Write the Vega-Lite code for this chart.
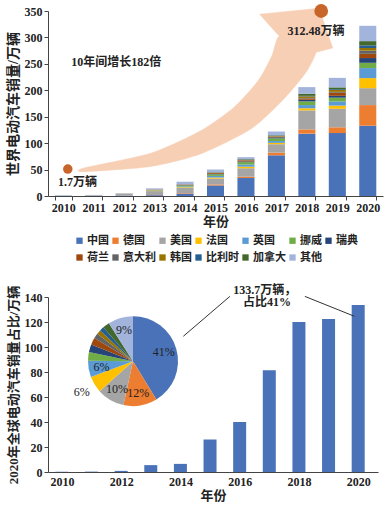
{
  "$schema": "https://vega.github.io/schema/vega-lite/v6.json",
  "padding": {"left": 6, "top": 4, "right": 4, "bottom": 4},
  "background": "white",
  "datasets": {
    "sales": [
      {"year": 2010, "中国": 0.2, "德国": 0, "美国": 0.4, "法国": 0.1, "英国": 0, "挪威": 0, "瑞典": 0, "荷兰": 0, "意大利": 0, "韩国": 0, "比利时": 0, "加拿大": 0, "其他": 1.0},
      {"year": 2011, "中国": 0.5, "德国": 0, "美国": 1.0, "法国": 0, "英国": 0, "挪威": 0, "瑞典": 0, "荷兰": 0, "意大利": 0, "韩国": 0, "比利时": 0, "加拿大": 0, "其他": 0.5},
      {"year": 2012, "中国": 0.8, "德国": 0, "美国": 3.5, "法国": 0.5, "英国": 0, "挪威": 0, "瑞典": 0, "荷兰": 0, "意大利": 0, "韩国": 0, "比利时": 0, "加拿大": 0, "其他": 1.0},
      {"year": 2013, "中国": 1.5, "德国": 0.3, "美国": 7.5, "法国": 0.8, "英国": 0.3, "挪威": 0.8, "瑞典": 0, "荷兰": 1.0, "意大利": 0, "韩国": 0, "比利时": 0, "加拿大": 0, "其他": 2.3},
      {"year": 2014, "中国": 4.5, "德国": 1, "美国": 10, "法国": 1.2, "英国": 1.5, "挪威": 2, "瑞典": 0.5, "荷兰": 1.2, "意大利": 0, "韩国": 0, "比利时": 0, "加拿大": 0, "其他": 5.1},
      {"year": 2015, "中国": 20, "德国": 2, "美国": 11, "法国": 2, "英国": 3, "挪威": 3, "瑞典": 1, "荷兰": 1.5, "意大利": 0.3, "韩国": 0.5, "比利时": 0.3, "加拿大": 0.5, "其他": 5},
      {"year": 2016, "中国": 34, "德国": 2.5, "美国": 16, "法国": 3, "英国": 4, "挪威": 4.5, "瑞典": 1.3, "荷兰": 2, "意大利": 0.5, "韩国": 0.5, "比利时": 0.5, "加拿大": 1, "其他": 3.7},
      {"year": 2017, "中国": 77, "德国": 5, "美国": 16, "法国": 2.5, "英国": 3.5, "挪威": 5, "瑞典": 2, "荷兰": 1, "意大利": 0.5, "韩国": 1, "比利时": 0.5, "加拿大": 1, "其他": 7},
      {"year": 2018, "中国": 118, "德国": 8, "美国": 36, "法国": 4, "英国": 6, "挪威": 7, "瑞典": 3, "荷兰": 2.5, "意大利": 1, "韩国": 3, "比利时": 1, "加拿大": 4, "其他": 12.5},
      {"year": 2019, "中国": 119, "德国": 11, "美国": 35, "法国": 6, "英国": 8, "挪威": 7, "瑞典": 3.5, "荷兰": 6, "意大利": 1.5, "韩国": 3.5, "比利时": 1.5, "加拿大": 3.5, "其他": 18},
      {"year": 2020, "中国": 133, "德国": 39, "美国": 32, "法国": 19, "英国": 19, "挪威": 10, "瑞典": 9, "荷兰": 8, "意大利": 6, "韩国": 5, "比利时": 5, "加拿大": 8, "其他": 29}
    ],
    "ord": [
      {"country": "中国", "k": 1}, {"country": "德国", "k": 2}, {"country": "美国", "k": 3},
      {"country": "法国", "k": 4}, {"country": "英国", "k": 5}, {"country": "挪威", "k": 6},
      {"country": "瑞典", "k": 7}, {"country": "荷兰", "k": 8}, {"country": "意大利", "k": 9},
      {"country": "韩国", "k": 10}, {"country": "比利时", "k": 11}, {"country": "加拿大", "k": 12},
      {"country": "其他", "k": 13}
    ],
    "shaft": [
      {"i": 0, "yr": 2010.68, "value": 53},
      {"i": 1, "yr": 2012.88, "value": 81},
      {"i": 2, "yr": 2014.53, "value": 124},
      {"i": 3, "yr": 2015.61, "value": 168},
      {"i": 4, "yr": 2016.4, "value": 218},
      {"i": 5, "yr": 2016.85, "value": 265},
      {"i": 6, "yr": 2017.15, "value": 305},
      {"i": 7, "yr": 2018.3, "value": 285},
      {"i": 8, "yr": 2018.04, "value": 240},
      {"i": 9, "yr": 2017.25, "value": 184},
      {"i": 10, "yr": 2016.17, "value": 127},
      {"i": 11, "yr": 2014.53, "value": 80},
      {"i": 12, "yr": 2012.88, "value": 56},
      {"i": 13, "yr": 2010.68, "value": 46}
    ],
    "head": [
      {"i": 0, "yr": 2016.45, "value": 344},
      {"i": 1, "yr": 2018.4, "value": 355},
      {"i": 2, "yr": 2018.85, "value": 280},
      {"i": 3, "yr": 2018.31, "value": 272},
      {"i": 4, "yr": 2017.05, "value": 305},
      {"i": 5, "yr": 2016.45, "value": 344}
    ],
    "china": [
      {"year": 2010, "v": 0.2}, {"year": 2011, "v": 0.3}, {"year": 2012, "v": 0.9},
      {"year": 2013, "v": 5.5}, {"year": 2014, "v": 6.5}, {"year": 2015, "v": 26},
      {"year": 2016, "v": 40}, {"year": 2017, "v": 81.5}, {"year": 2018, "v": 120},
      {"year": 2019, "v": 122.5}, {"year": 2020, "v": 133.7}
    ],
    "pie": [
      {"country": "中国", "k": 1, "v": 133, "lab": "41%", "out": ""},
      {"country": "德国", "k": 2, "v": 39, "lab": "12%", "out": ""},
      {"country": "美国", "k": 3, "v": 32, "lab": "10%", "out": ""},
      {"country": "法国", "k": 4, "v": 19, "lab": "", "out": "6%"},
      {"country": "英国", "k": 5, "v": 19, "lab": "6%", "out": ""},
      {"country": "挪威", "k": 6, "v": 10, "lab": "", "out": ""},
      {"country": "瑞典", "k": 7, "v": 9, "lab": "", "out": ""},
      {"country": "荷兰", "k": 8, "v": 8, "lab": "", "out": ""},
      {"country": "意大利", "k": 9, "v": 6, "lab": "", "out": ""},
      {"country": "韩国", "k": 10, "v": 5, "lab": "", "out": ""},
      {"country": "比利时", "k": 11, "v": 5, "lab": "", "out": ""},
      {"country": "加拿大", "k": 12, "v": 8, "lab": "", "out": ""},
      {"country": "其他", "k": 13, "v": 29, "lab": "9%", "out": ""}
    ],
    "leaders": [
      {"x": 2014.1, "y": 108.6, "x2": 2015.67, "y2": 140.5},
      {"x": 2018.2, "y": 140.5, "x2": 2019.87, "y2": 124.6}
    ]
  },
  "vconcat": [
    {
      "width": 335,
      "height": 185,
      "encoding": {
        "y": {"field": "value", "type": "quantitative", "scale": {"domain": [0, 350], "nice": false},
              "axis": {"title": "世界电动汽车销量/万辆", "values": [0, 50, 100, 150, 200, 250, 300, 350], "titlePadding": 4, "titleFontSize": 14}}
      },
      "layer": [
        {
          "data": {"name": "shaft"},
          "mark": {"type": "line", "fill": "#f7cfb4", "stroke": "#f7cfb4", "strokeWidth": 0.5, "interpolate": "cardinal-closed", "tension": 0.3},
          "encoding": {
            "x": {"field": "yr", "type": "quantitative", "scale": {"domain": [2009.5, 2020.5], "nice": false, "zero": false}, "axis": null},
            "order": {"field": "i", "type": "quantitative"}
          }
        },
        {
          "data": {"name": "head"},
          "mark": {"type": "line", "fill": "#f7cfb4", "stroke": "#f7cfb4", "strokeWidth": 0.5},
          "encoding": {
            "x": {"field": "yr", "type": "quantitative", "scale": {"domain": [2009.5, 2020.5], "nice": false, "zero": false}, "axis": null},
            "order": {"field": "i", "type": "quantitative"}
          }
        },
        {
          "data": {"name": "sales"},
          "transform": [
            {"fold": ["中国", "德国", "美国", "法国", "英国", "挪威", "瑞典", "荷兰", "意大利", "韩国", "比利时", "加拿大", "其他"], "as": ["country", "value"]},
            {"lookup": "country", "from": {"data": {"name": "ord"}, "key": "country", "fields": ["k"]}}
          ],
          "mark": {"type": "bar"},
          "encoding": {
            "x": {"field": "year", "type": "ordinal", "scale": {"paddingInner": 0.44, "paddingOuter": 0.22},
                  "axis": {"title": "年份", "labelAngle": 0, "tickBand": "extent", "titlePadding": 2}},
            "color": {"field": "country", "type": "nominal",
                      "sort": ["中国", "德国", "美国", "法国", "英国", "挪威", "瑞典", "荷兰", "意大利", "韩国", "比利时", "加拿大", "其他"],
                      "scale": {"domain": ["中国", "德国", "美国", "法国", "英国", "挪威", "瑞典", "荷兰", "意大利", "韩国", "比利时", "加拿大", "其他"],
                                "range": ["#4a72b8", "#ed7d31", "#a5a5a5", "#ffc000", "#5b9bd5", "#70ad47", "#264478", "#9e480e", "#636363", "#997300", "#255e91", "#43682b", "#a3b4dc"]},
                      "legend": {"orient": "bottom", "direction": "horizontal", "columns": 7, "gridAlign": "each", "title": null, "symbolType": "square", "symbolSize": 40, "labelFontSize": 11, "labelFontWeight": "bold", "columnPadding": 1, "rowPadding": 5, "labelOffset": 2, "offset": 7, "symbolStrokeWidth": 0}},
            "order": {"field": "k", "type": "quantitative"}
          }
        },
        {
          "data": {"values": [{"yr": 2010.15, "value": 51}]},
          "mark": {"type": "point", "filled": true, "size": 90, "color": "#c8652a", "opacity": 1},
          "encoding": {"x": {"field": "yr", "type": "quantitative", "scale": {"domain": [2009.5, 2020.5], "nice": false, "zero": false}, "axis": null}}
        },
        {
          "data": {"values": [{"yr": 2018.47, "value": 350}]},
          "mark": {"type": "point", "filled": true, "size": 190, "color": "#c8652a", "opacity": 1},
          "encoding": {"x": {"field": "yr", "type": "quantitative", "scale": {"domain": [2009.5, 2020.5], "nice": false, "zero": false}, "axis": null}}
        },
        {
          "data": {"values": [
            {"yr": 2010.47, "value": 26, "t": "1.7万辆"},
            {"yr": 2018.3, "value": 312, "t": "312.48万辆"},
            {"yr": 2011.74, "value": 253, "t": "10年间增长182倍"}
          ]},
          "mark": {"type": "text", "fontSize": 12, "fontWeight": "bold", "color": "#222"},
          "encoding": {
            "x": {"field": "yr", "type": "quantitative", "scale": {"domain": [2009.5, 2020.5], "nice": false, "zero": false}, "axis": null},
            "text": {"field": "t"}
          }
        }
      ],
      "resolve": {"scale": {"x": "independent"}}
    },
    {
      "width": 330,
      "height": 175,
      "layer": [
        {
          "data": {"name": "china"},
          "mark": {"type": "bar", "size": 13, "color": "#4a72b8"},
          "encoding": {
            "x": {"field": "year", "type": "quantitative", "scale": {"domain": [2009.7, 2020.5], "nice": false, "zero": false},
                  "axis": {"title": "年份", "values": [2010, 2012, 2014, 2016, 2018, 2020], "format": "d", "titlePadding": 2, "ticks": false, "labelPadding": 4}},
            "y": {"field": "v", "type": "quantitative", "scale": {"domain": [0, 140], "nice": false},
                  "axis": {"title": "2020年全球电动汽车销量占比/万辆", "values": [0, 20, 40, 60, 80, 100, 120, 140], "titlePadding": 4}}
          }
        },
        {
          "data": {"name": "leaders"},
          "mark": {"type": "rule", "color": "#333", "strokeWidth": 1},
          "encoding": {
            "x": {"field": "x", "type": "quantitative", "scale": {"domain": [2009.7, 2020.5], "nice": false, "zero": false},
                  "axis": {"title": "年份", "values": [2010, 2012, 2014, 2016, 2018, 2020], "format": "d", "titlePadding": 2, "ticks": false, "labelPadding": 4}},
            "x2": {"field": "x2"},
            "y": {"field": "y", "type": "quantitative", "scale": {"domain": [0, 140], "nice": false},
                  "axis": {"title": "2020年全球电动汽车销量占比/万辆", "values": [0, 20, 40, 60, 80, 100, 120, 140], "titlePadding": 4}},
            "y2": {"field": "y2"}
          }
        },
        {
          "data": {"name": "pie"},
          "mark": {"type": "arc", "radius": 45},
          "encoding": {
            "theta": {"field": "v", "type": "quantitative", "stack": true},
            "order": {"field": "k", "type": "quantitative"},
            "color": {"field": "country", "type": "nominal", "legend": null,
                      "scale": {"domain": ["中国", "德国", "美国", "法国", "英国", "挪威", "瑞典", "荷兰", "意大利", "韩国", "比利时", "加拿大", "其他"],
                                "range": ["#4a72b8", "#ed7d31", "#a5a5a5", "#ffc000", "#5b9bd5", "#70ad47", "#264478", "#9e480e", "#636363", "#997300", "#255e91", "#43682b", "#a3b4dc"]}},
            "x": {"datum": 2012.4, "type": "quantitative", "scale": {"domain": [2009.7, 2020.5], "nice": false, "zero": false},
                  "axis": {"title": "年份", "values": [2010, 2012, 2014, 2016, 2018, 2020], "format": "d", "titlePadding": 2, "ticks": false, "labelPadding": 4}},
            "y": {"datum": 88.7, "type": "quantitative", "scale": {"domain": [0, 140], "nice": false},
                  "axis": {"title": "2020年全球电动汽车销量占比/万辆", "values": [0, 20, 40, 60, 80, 100, 120, 140], "titlePadding": 4}}
          }
        },
        {
          "data": {"name": "pie"},
          "mark": {"type": "text", "radius": 32, "fontSize": 12, "color": "#222"},
          "encoding": {
            "theta": {"field": "v", "type": "quantitative", "stack": true},
            "order": {"field": "k", "type": "quantitative"},
            "text": {"field": "lab"},
            "x": {"datum": 2012.4, "type": "quantitative", "scale": {"domain": [2009.7, 2020.5], "nice": false, "zero": false},
                  "axis": {"title": "年份", "values": [2010, 2012, 2014, 2016, 2018, 2020], "format": "d", "titlePadding": 2, "ticks": false, "labelPadding": 4}},
            "y": {"datum": 88.7, "type": "quantitative", "scale": {"domain": [0, 140], "nice": false},
                  "axis": {"title": "2020年全球电动汽车销量占比/万辆", "values": [0, 20, 40, 60, 80, 100, 120, 140], "titlePadding": 4}}
          }
        },
        {
          "data": {"name": "pie"},
          "mark": {"type": "text", "radius": 60, "fontSize": 12, "color": "#222"},
          "encoding": {
            "theta": {"field": "v", "type": "quantitative", "stack": true},
            "order": {"field": "k", "type": "quantitative"},
            "text": {"field": "out"},
            "x": {"datum": 2012.4, "type": "quantitative", "scale": {"domain": [2009.7, 2020.5], "nice": false, "zero": false},
                  "axis": {"title": "年份", "values": [2010, 2012, 2014, 2016, 2018, 2020], "format": "d", "titlePadding": 2, "ticks": false, "labelPadding": 4}},
            "y": {"datum": 88.7, "type": "quantitative", "scale": {"domain": [0, 140], "nice": false},
                  "axis": {"title": "2020年全球电动汽车销量占比/万辆", "values": [0, 20, 40, 60, 80, 100, 120, 140], "titlePadding": 4}}
          }
        },
        {
          "data": {"values": [{"x": 2016.85, "y": 146, "t": "133.7万辆，"}, {"x": 2016.92, "y": 136, "t": "占比41%"}]},
          "mark": {"type": "text", "fontSize": 12, "fontWeight": "bold", "color": "#222"},
          "encoding": {
            "x": {"field": "x", "type": "quantitative", "scale": {"domain": [2009.7, 2020.5], "nice": false, "zero": false},
                  "axis": {"title": "年份", "values": [2010, 2012, 2014, 2016, 2018, 2020], "format": "d", "titlePadding": 2, "ticks": false, "labelPadding": 4}},
            "y": {"field": "y", "type": "quantitative", "scale": {"domain": [0, 140], "nice": false},
                  "axis": {"title": "2020年全球电动汽车销量占比/万辆", "values": [0, 20, 40, 60, 80, 100, 120, 140], "titlePadding": 4}},
            "text": {"field": "t"}
          }
        }
      ]
    }
  ],
  "spacing": 20,
  "resolve": {"scale": {"color": "independent"}, "legend": {"color": "independent"}},
  "config": {
    "view": {"stroke": null},
    "font": "'Liberation Serif', 'Noto Sans CJK SC', serif",
    "axis": {
      "grid": false, "domainColor": "#444", "tickColor": "#444", "tickSize": 4,
      "labelColor": "#222", "titleColor": "#222", "labelFontSize": 12, "titleFontSize": 13,
      "labelFontWeight": "bold", "titleFontWeight": "bold", "labelPadding": 2,
      "labelFont": "'Liberation Serif', 'Noto Sans CJK SC', serif",
      "titleFont": "'Liberation Serif', 'Noto Sans CJK SC', serif"
    },
    "legend": {"labelFont": "'Liberation Serif', 'Noto Sans CJK SC', serif", "labelColor": "#222", "gridAlign": "each", "layout": {"bottom": {"anchor": "middle"}}},
    "text": {"font": "'Liberation Serif', 'Noto Sans CJK SC', serif"}
  }
}
